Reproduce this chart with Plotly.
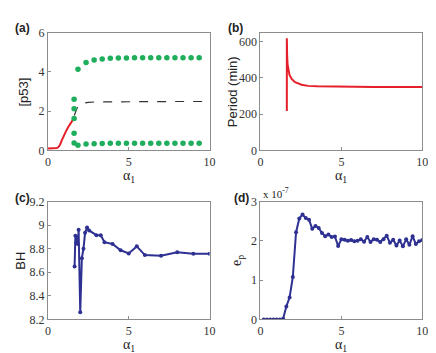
import plotly.graph_objects as go

# ---------------- data ----------------
# (a) steady states and oscillation extrema
a_stable_x = [0.0, 0.2, 0.4, 0.55, 0.65, 0.75, 0.85, 0.95, 1.05, 1.15, 1.25, 1.35, 1.45, 1.55, 1.6]
a_stable_y = [0.1, 0.1, 0.11, 0.12, 0.17, 0.29, 0.5, 0.7, 0.88, 1.03, 1.18, 1.32, 1.45, 1.56, 1.63]
a_unstable_x = [1.63, 1.7, 1.8, 1.9, 2.0, 2.2, 2.5, 3.0, 4.0, 5.0, 6.0, 7.0, 8.0, 9.0, 9.9]
a_unstable_y = [1.78, 1.95, 2.15, 2.27, 2.34, 2.41, 2.45, 2.47, 2.48, 2.49, 2.49, 2.49, 2.49, 2.49, 2.49]
a_col_x = [1.62, 1.62, 1.62, 1.62, 1.62]
a_col_y = [2.61, 2.12, 1.63, 0.87, 0.38]
a_osc_x = [1.86, 2.36, 2.86, 3.36, 3.86, 4.36, 4.86, 5.36, 5.86, 6.36, 6.86, 7.36, 7.86, 8.36, 8.86, 9.36]
a_max_y = [4.13, 4.48, 4.6, 4.66, 4.69, 4.7, 4.71, 4.72, 4.72, 4.72, 4.72, 4.72, 4.72, 4.72, 4.72, 4.72]
a_min_y = [0.26, 0.33, 0.34, 0.35, 0.36, 0.36, 0.36, 0.37, 0.37, 0.37, 0.37, 0.37, 0.37, 0.37, 0.37, 0.37]

# (b) period
b_x = [1.63, 1.63, 1.64, 1.65, 1.68, 1.73, 1.8, 1.94, 2.14, 2.54, 2.94, 3.5, 3.95, 5.16, 6.0, 7.0, 8.0, 9.0, 10.0]
b_y = [217, 618, 560, 520, 470, 438, 415, 393, 376, 362, 356, 354, 353, 350, 350, 350, 350, 350, 350]

# (c) BH
c_x = [1.65, 1.7, 1.75, 1.8, 1.85, 1.9, 2.0, 2.1, 2.2, 2.3, 2.42, 2.55, 3.0, 3.27, 3.5, 4.0, 4.5, 5.0, 5.5, 6.0, 7.0, 8.0, 9.0, 10.0]
c_y = [8.65, 8.91, 8.85, 8.90, 8.84, 8.96, 8.26, 8.72, 8.80, 8.935, 8.98, 8.955, 8.915, 8.915, 8.855, 8.84, 8.787, 8.76, 8.82, 8.746, 8.74, 8.77, 8.758, 8.758]

# (d) e_p (x 1e-7)
d_x = [round(0.2 * i, 1) for i in range(1, 51)]
d_y = [0, 0, 0, 0, 0, 0, 0.02, 0.33, 0.56, 1.08,
       2.22, 2.57, 2.67, 2.58, 2.54, 2.31, 2.38, 2.33, 2.2, 2.12,
       2.16, 2.1, 2.11, 1.87, 2.04, 2.03, 2.0, 2.02, 1.99, 2.0,
       2.04, 1.98, 2.1, 1.97, 2.04, 2.03, 1.97, 2.04, 2.13, 1.95,
       2.03, 1.88, 2.01, 1.86, 2.04, 1.9, 2.12, 1.92, 1.99, 2.02]

RED = "#e5202a"
GREEN = "#1fae5c"
BLUE = "#2e3192"
AX = "#8c8c8c"

W, H = 436, 353
def px(x):
    return x / W
def py(y):
    return 1 - y / H

fig = go.Figure()
fig.add_trace(go.Scatter(x=a_stable_x, y=a_stable_y, mode="lines", line=dict(color=RED, width=2), xaxis="x", yaxis="y"))
fig.add_trace(go.Scatter(x=a_unstable_x, y=a_unstable_y, mode="lines", line=dict(color="#333333", width=1.2, dash="dash"), xaxis="x", yaxis="y"))
fig.add_trace(go.Scatter(x=a_col_x + a_osc_x + a_osc_x, y=a_col_y + a_max_y + a_min_y, mode="markers",
                         marker=dict(color=GREEN, size=5.5), xaxis="x", yaxis="y"))
fig.add_trace(go.Scatter(x=b_x, y=b_y, mode="lines", line=dict(color=RED, width=2), xaxis="x2", yaxis="y2"))
fig.add_trace(go.Scatter(x=c_x, y=c_y, mode="lines+markers", line=dict(color=BLUE, width=2),
                         marker=dict(color=BLUE, size=4), xaxis="x3", yaxis="y3"))
fig.add_trace(go.Scatter(x=d_x, y=d_y, mode="lines+markers", line=dict(color=BLUE, width=2),
                         marker=dict(color=BLUE, size=4), xaxis="x4", yaxis="y4"))

tickfont = dict(family="Liberation Serif", size=12, color="#333333")
def xax(dom, anchor):
    return dict(domain=dom, anchor=anchor, range=[0, 10], tickvals=[0, 5, 10],
                showline=True, mirror=True, linecolor=AX, linewidth=1, ticks="inside",
                ticklen=3, tickcolor=AX, showgrid=False, zeroline=False, tickfont=tickfont)
def yax(dom, anchor, rng, vals, text=None):
    d = dict(domain=dom, anchor=anchor, range=rng, tickvals=vals,
             showline=True, mirror=True, linecolor=AX, linewidth=1, ticks="inside",
             ticklen=3, tickcolor=AX, showgrid=False, zeroline=False, tickfont=tickfont)
    if text:
        d["ticktext"] = text
    return d

xl = [px(37.7), px(202.7)]
xr = [px(254.7), px(420)]
yt = [py(141), py(18.3)]
yb = [py(317), py(194.3)]

fig.update_layout(
    width=W, height=H, margin=dict(l=0, r=0, t=0, b=0),
    paper_bgcolor="white", plot_bgcolor="white", showlegend=False,
    xaxis=xax(xl, "y"), yaxis=yax(yt, "x", [0, 6], [0, 2, 4, 6]),
    xaxis2=xax(xr, "y2"), yaxis2=yax(yt, "x2", [0, 650], [0, 200, 400, 600]),
    xaxis3=xax(xl, "y3"), yaxis3=yax(yb, "x3", [8.2, 9.2], [8.2, 8.4, 8.6, 8.8, 9.0, 9.2],
                                     ["8.2", "8.4", "8.6", "8.8", "9", "9.2"]),
    xaxis4=xax(xr, "y4"), yaxis4=yax(yb, "x4", [0, 3], [0, 1, 2, 3]),
)

ann = []
def lab(x, y, t, size=12, fam="Liberation Sans", angle=0, bold=False, xanchor="center", yanchor="middle"):
    ann.append(dict(x=px(x), y=py(y), xref="paper", yref="paper", text=("<b>%s</b>" % t) if bold else t,
                    showarrow=False, textangle=angle, xanchor=xanchor, yanchor=yanchor,
                    font=dict(family=fam, size=size, color="#222222")))

lab(12, 14, "(a)", 12, bold=True)
lab(229, 14, "(b)", 12, bold=True)
lab(12, 191, "(c)", 12, bold=True)
lab(235, 191, "(d)", 12, bold=True)
lab(120, 157, "α<sub>1</sub>", 14, "Liberation Serif", yanchor="top")
lab(337, 157, "α<sub>1</sub>", 14, "Liberation Serif", yanchor="top")
lab(120, 333, "α<sub>1</sub>", 14, "Liberation Serif", yanchor="top")
lab(337, 333, "α<sub>1</sub>", 14, "Liberation Serif", yanchor="top")
lab(13, 80, "[p53]", 13, angle=-90)
lab(227, 80, "Period (min)", 13, angle=-90)
lab(10, 256, "BH", 13, angle=-90)
lab(232, 256, "e<sub>p</sub>", 14, "Liberation Serif", angle=-90)
lab(255, 185, "x 10<sup>-7</sup>", 11, "Liberation Serif", xanchor="left")
fig.update_layout(annotations=ann)

fig.write_html("out.html")
